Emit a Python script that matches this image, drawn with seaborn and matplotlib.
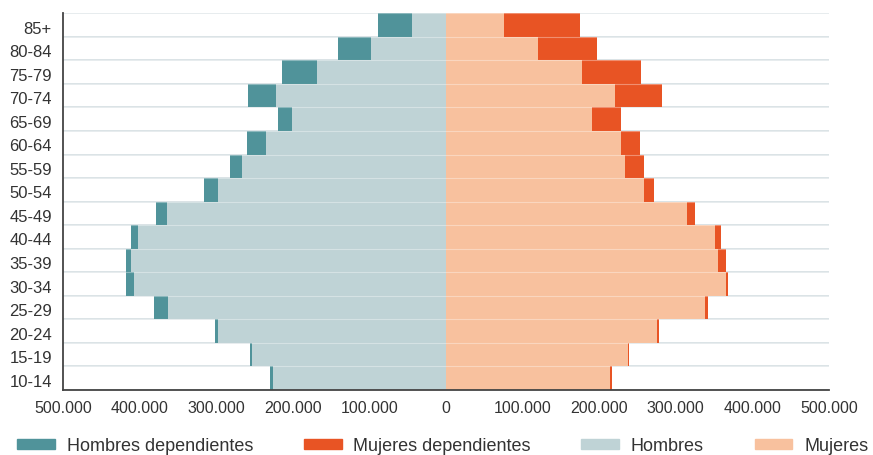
import matplotlib
matplotlib.use("Agg")
import matplotlib.pyplot as plt
import matplotlib.ticker as mticker
import matplotlib.transforms as mtransforms
from matplotlib.patches import Patch
import pandas as pd
import seaborn as sns

# age groups, top to bottom
ages = ["85+", "80-84", "75-79", "70-74", "65-69", "60-64", "55-59", "50-54",
        "45-49", "40-44", "35-39", "30-34", "25-29", "20-24", "15-19", "10-14"]

# men: total (incl. dependents) and non-dependent part
hombres_total = [88700, 141200, 213800, 258500, 219000, 259900, 282000, 316400,
                 378500, 410700, 417600, 418100, 380700, 301600, 256000, 229900]
hombres = [44700, 98200, 168200, 222500, 200800, 234700, 266000, 297700,
           364200, 402400, 411100, 406800, 362500, 297300, 253300, 226400]

# women: total (incl. dependents) and non-dependent part
mujeres_total = [175100, 197300, 255100, 282100, 228200, 253400, 258600, 271600,
                 325500, 358500, 365100, 368600, 342500, 277700, 238500, 217300]
mujeres = [76000, 120400, 177700, 221200, 191200, 228200, 233400, 258600,
           314200, 351100, 354600, 365500, 338600, 275100, 238200, 213800]

c_hd = "#50939a"
c_md = "#e85424"
c_h = "#bfd3d6"
c_m = "#f8c19e"
txt = "#333333"

df = pd.DataFrame({
    "edad": ages,
    "h_tot": [-v for v in hombres_total],
    "h": [-v for v in hombres],
    "m_tot": mujeres_total,
    "m": mujeres,
})

sns.set_style("white")
plt.rcParams["font.family"] = ["Liberation Sans", "DejaVu Sans"]

fig = plt.figure(figsize=(8.73, 4.56), dpi=100)
ax = fig.add_axes([63 / 873, 65 / 456, 766 / 873, 376.7 / 456])

for col, color in [("h_tot", c_hd), ("h", c_h), ("m_tot", c_md), ("m", c_m)]:
    sns.barplot(data=df, x=col, y="edad", order=ages, orient="h", width=1,
                color=color, saturation=1, linewidth=0, ax=ax, zorder=2)

# row separators (faint over the bars, stronger in the empty area)
seps = [i - 0.5 for i in range(len(ages) + 1)]
ax.hlines(seps, -500000, 500000, color="#d8e1e4", lw=1.3, zorder=0)
ax.hlines(seps, -500000, 500000, color="white", lw=0.8, alpha=0.35, zorder=3)

ax.set_xlim(-500000, 500000)
ax.set_ylim(len(ages) - 0.5, -0.5)
ax.set_xlabel("")
ax.set_ylabel("")

ax.xaxis.set_major_locator(mticker.MultipleLocator(100000))
ax.xaxis.set_major_formatter(mticker.FuncFormatter(
    lambda v, p: f"{abs(int(round(v))):,}".replace(",", ".")))

for s in ["top", "right"]:
    ax.spines[s].set_visible(False)
for s in ["left", "bottom"]:
    ax.spines[s].set_color("#444444")
    ax.spines[s].set_linewidth(1.3)
    ax.spines[s].set_zorder(4)

ax.tick_params(axis="x", direction="in", length=5, width=1, color="#444444",
               labelsize=11.5, labelcolor=txt, pad=7)
ax.tick_params(axis="y", length=0, labelsize=12, labelcolor=txt, pad=8)

shift = mtransforms.ScaledTranslation(0, -1.5 / 100, fig.dpi_scale_trans)
for lab in ax.get_yticklabels():
    lab.set_transform(lab.get_transform() + shift)

handles = [Patch(color=c_hd), Patch(color=c_md), Patch(color=c_h), Patch(color=c_m)]
labels = ["Hombres dependientes", "Mujeres dependientes", "Hombres", "Mujeres"]
fig.legend(handles, labels, ncol=4, loc="center left",
           bbox_to_anchor=(17 / 873, 1 - 447 / 456), frameon=False,
           fontsize=13, labelcolor=txt, handlelength=2.1, handleheight=0.4,
           handletextpad=0.65, columnspacing=2.8, borderpad=0, borderaxespad=0)

fig.savefig("out.png", dpi=100)
